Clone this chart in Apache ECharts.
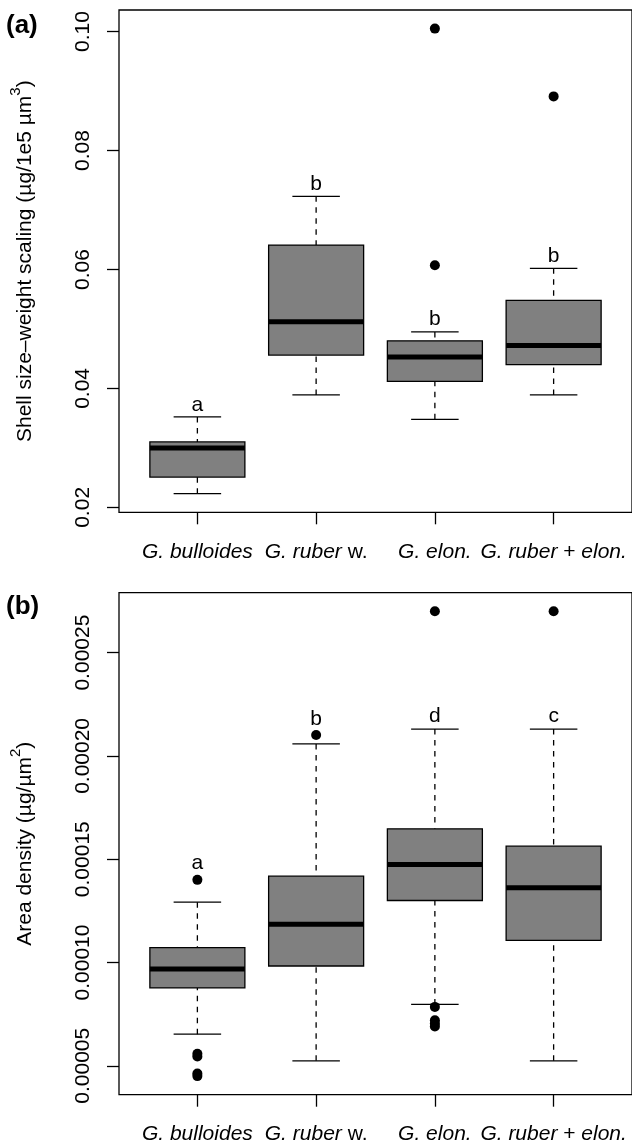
<!DOCTYPE html>
<html>
<head>
<meta charset="utf-8">
<script src="https://cdn.jsdelivr.net/npm/echarts@6/dist/echarts.min.js"></script>
<style>
  html, body { margin: 0; padding: 0; background: #fff; }
  #chart { width: 632px; height: 1147px; }
</style>
</head>
<body>
<div id="chart"></div>
<script>
// Species groups along the x axis (plotted at positions 1..4)
const categories = ['G. bulloides', 'G. ruber w.', 'G. elon.', 'G. ruber + elon.'];

// (a) shell size-weight scaling: [lower whisker, Q1, median, Q3, upper whisker]
const scalingStats = [
  [0.0223, 0.0251, 0.0300, 0.0310, 0.0352],
  [0.0389, 0.0456, 0.0512, 0.0641, 0.0723],
  [0.0348, 0.0412, 0.0453, 0.0480, 0.0495],
  [0.0389, 0.0440, 0.0472, 0.0548, 0.0602]
];
const scalingOutliers = [[], [], [0.1005, 0.0607], [0.0891]];
const scalingLetters = ['a', 'b', 'b', 'b'];
const scalingLetterLevel = [0.0371, 0.0744, 0.0517, 0.0622];
const scalingTicks = [0.02, 0.04, 0.06, 0.08, 0.10];

// (b) area density: [lower whisker, Q1, median, Q3, upper whisker]
const densityStats = [
  [0.0000653, 0.0000877, 0.0000969, 0.0001072, 0.0001292],
  [0.0000524, 0.0000983, 0.0001185, 0.0001418, 0.0002058],
  [0.0000797, 0.0001300, 0.0001474, 0.0001647, 0.0002130],
  [0.0000524, 0.0001107, 0.0001362, 0.0001563, 0.0002130]
];
const densityOutliers = [
  [0.000140, 0.0000558, 0.0000545, 0.0000463, 0.0000450],
  [0.0002101],
  [0.000270, 0.0000785, 0.0000720, 0.0000705, 0.0000690],
  [0.000270]
];
const densityLetters = ['a', 'b', 'd', 'c'];
const densityLetterLevel = [0.000148, 0.000218, 0.000219, 0.000219];
const densityTicks = [0.00005, 0.00010, 0.00015, 0.00020, 0.00025];

const FONT = "'Liberation Sans', Arial, Helvetica, sans-serif";
const FS = 21;
const LW = 1.3;

// Axis range padded by 4% of the data span on each side
function paddedRange(stats, outliers) {
  const all = stats.flat().concat(outliers.flat());
  const lo = Math.min(...all), hi = Math.max(...all);
  const pad = 0.04 * (hi - lo);
  return [lo - pad, hi + pad];
}
const xRange = [0.5 - 0.04 * 4, categories.length + 0.5 + 0.04 * 4];
const xPositions = categories.map((_, i) => i + 1);

const catLabels = [
  '{i|G. bulloides}',
  '{i|G. ruber }{n|w.}',
  '{i|G. elon.}',
  '{i|G. ruber }{n|+ }{i|elon.}'
];

function renderBox(params, api) {
  const x = api.value(0);
  const lo = api.coord([x, api.value(1)]);
  const q1 = api.coord([x, api.value(2)]);
  const md = api.coord([x, api.value(3)]);
  const q3 = api.coord([x, api.value(4)]);
  const hi = api.coord([x, api.value(5)]);
  const boxW = api.size([0.8, 0])[0];
  const capW = api.size([0.4, 0])[0];
  const cx = lo[0];
  const dash = { stroke: '#000', lineWidth: LW, lineDash: [5.5, 5.5], fill: null };
  const solid = { stroke: '#000', lineWidth: LW, fill: null };
  return {
    type: 'group',
    children: [
      { type: 'line', shape: { x1: cx, y1: hi[1], x2: cx, y2: q3[1] }, style: dash },
      { type: 'line', shape: { x1: cx, y1: lo[1], x2: cx, y2: q1[1] }, style: dash },
      { type: 'line', shape: { x1: cx - capW / 2, y1: hi[1], x2: cx + capW / 2, y2: hi[1] }, style: solid },
      { type: 'line', shape: { x1: cx - capW / 2, y1: lo[1], x2: cx + capW / 2, y2: lo[1] }, style: solid },
      { type: 'rect', shape: { x: cx - boxW / 2, y: q3[1], width: boxW, height: q1[1] - q3[1] },
        style: { fill: '#808080', stroke: '#000', lineWidth: LW } },
      { type: 'line', shape: { x1: cx - boxW / 2, y1: md[1], x2: cx + boxW / 2, y2: md[1] },
        style: { stroke: '#000', lineWidth: 5 } }
    ]
  };
}

function letterRenderer(letters) {
  return function (params, api) {
    const p = api.coord([api.value(0), api.value(1)]);
    return {
      type: 'text', x: p[0], y: p[1],
      style: { text: letters[params.dataIndex], font: FS + 'px ' + FONT, fill: '#000',
               align: 'center', verticalAlign: 'middle' }
    };
  };
}

function boxData(stats) { return stats.map((s, i) => [xPositions[i]].concat(s)); }
function outlierData(outs) {
  const d = [];
  outs.forEach((arr, i) => arr.forEach(v => d.push([xPositions[i], v])));
  return d;
}
function letterData(levels) { return levels.map((v, i) => [xPositions[i], v]); }

function makeX(gridIndex) {
  return {
    type: 'value', gridIndex, min: xRange[0], max: xRange[1],
    axisLine: { show: false },
    splitLine: { show: false },
    axisTick: { show: true, customValues: xPositions, length: 12, lineStyle: { color: '#000', width: LW } },
    axisLabel: {
      customValues: xPositions, margin: 29, color: '#000',
      formatter: v => catLabels[Math.round(v) - 1],
      rich: {
        i: { fontFamily: FONT, fontSize: FS, fontStyle: 'italic', color: '#000' },
        n: { fontFamily: FONT, fontSize: FS, color: '#000' }
      }
    }
  };
}

function makeY(gridIndex, range, ticks, digits, nameRich) {
  return {
    type: 'value', gridIndex, min: range[0], max: range[1],
    axisLine: { show: false },
    splitLine: { show: false },
    axisTick: { show: true, customValues: ticks, length: 12, lineStyle: { color: '#000', width: LW } },
    axisLabel: {
      customValues: ticks, rotate: 90, margin: 25, color: '#000',
      fontFamily: FONT, fontSize: FS,
      formatter: v => v.toFixed(digits)
    },
    name: nameRich,
    nameLocation: 'middle',
    nameRotate: 90,
    nameGap: 83,
    nameTextStyle: {
      rich: {
        n: { fontFamily: FONT, fontSize: FS, color: '#000', lineHeight: 28, verticalAlign: 'bottom' },
        s: { fontFamily: FONT, fontSize: 15, color: '#000', lineHeight: 15, verticalAlign: 'top' }
      }
    }
  };
}

const scalingRange = paddedRange(scalingStats, scalingOutliers);
const densityRange = paddedRange(densityStats, densityOutliers);

const chart = echarts.init(document.getElementById('chart'), null, { renderer: 'canvas' });
chart.setOption({
  animation: false,
  backgroundColor: '#fff',
  textStyle: { fontFamily: FONT },
  grid: [
    { left: 118.7, top: 10, width: 515.8, height: 502.3, show: true, borderColor: '#000', borderWidth: LW, backgroundColor: 'transparent' },
    { left: 118.7, top: 592.7, width: 515.8, height: 502, show: true, borderColor: '#000', borderWidth: LW, backgroundColor: 'transparent' }
  ],
  xAxis: [makeX(0), makeX(1)],
  yAxis: [
    makeY(0, scalingRange, scalingTicks, 2, '{n|Shell size–weight scaling (µg/1e5 µm}{s|3}{n|)}'),
    makeY(1, densityRange, densityTicks, 5, '{n|Area density (µg/µm}{s|2}{n|)}')
  ],
  graphic: [
    { type: 'text', left: 6, top: 13, style: { text: '(a)', font: 'bold 26px ' + FONT, fill: '#000' } },
    { type: 'text', left: 6, top: 594, style: { text: '(b)', font: 'bold 26px ' + FONT, fill: '#000' } }
  ],
  series: [
    { type: 'custom', xAxisIndex: 0, yAxisIndex: 0, data: boxData(scalingStats), renderItem: renderBox, z: 2 },
    { type: 'scatter', xAxisIndex: 0, yAxisIndex: 0, data: outlierData(scalingOutliers), symbol: 'circle', symbolSize: 10, itemStyle: { color: '#000', opacity: 1 }, z: 3 },
    { type: 'custom', xAxisIndex: 0, yAxisIndex: 0, data: letterData(scalingLetterLevel), renderItem: letterRenderer(scalingLetters), z: 4 },
    { type: 'custom', xAxisIndex: 1, yAxisIndex: 1, data: boxData(densityStats), renderItem: renderBox, z: 2 },
    { type: 'scatter', xAxisIndex: 1, yAxisIndex: 1, data: outlierData(densityOutliers), symbol: 'circle', symbolSize: 10, itemStyle: { color: '#000', opacity: 1 }, z: 3 },
    { type: 'custom', xAxisIndex: 1, yAxisIndex: 1, data: letterData(densityLetterLevel), renderItem: letterRenderer(densityLetters), z: 4 }
  ]
});
</script>
</body>
</html>
